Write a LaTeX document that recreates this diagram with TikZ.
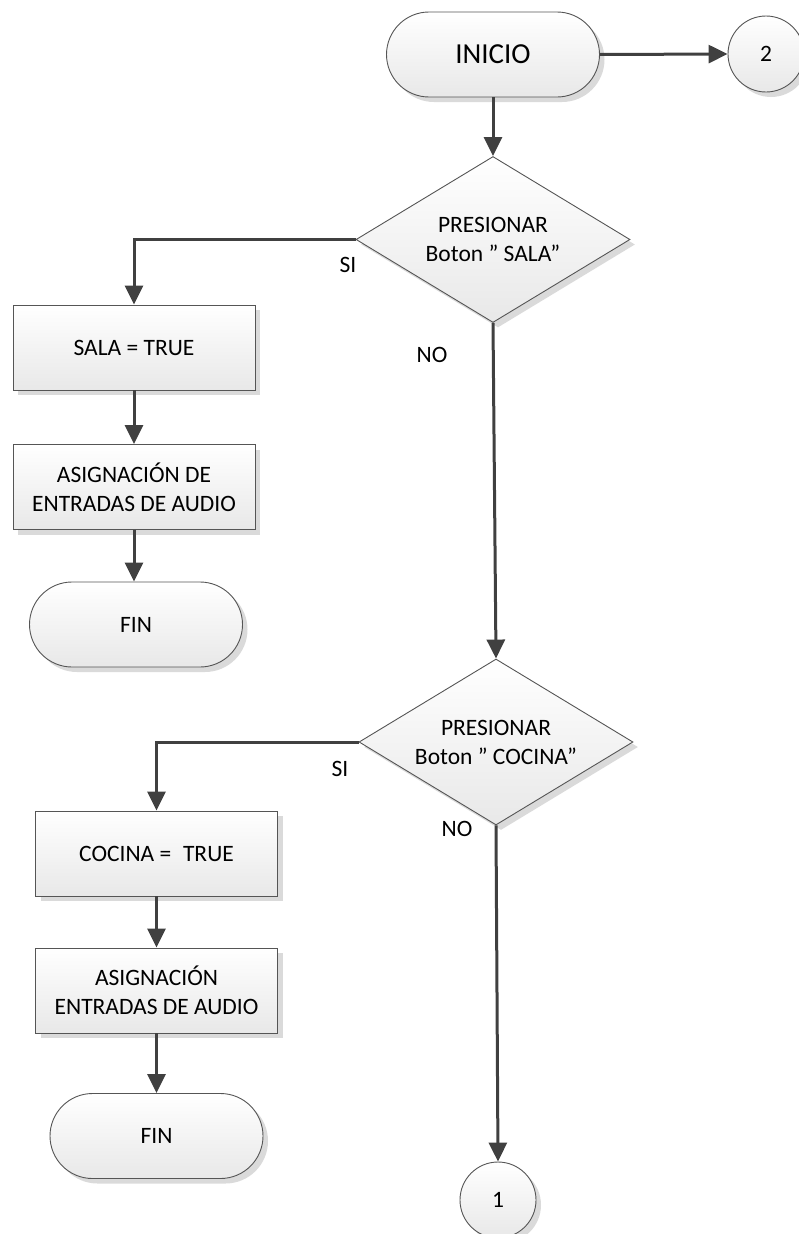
\documentclass[tikz,border=0pt]{standalone}
\usepackage{fontspec}
\setmainfont{Carlito}
\usetikzlibrary{arrows.meta,shapes.geometric,shadows}

\definecolor{edge}{HTML}{555555}
\definecolor{wire}{HTML}{404040}
\definecolor{shade}{HTML}{DADADA}

\begin{document}
\begin{tikzpicture}[x=1pt,y=-1pt,
  txt/.style={font=\fontsize{23.5}{29}\selectfont, align=center, inner sep=0pt},
  shape base/.style={txt, draw=edge, line width=0.9pt,
    top color=white, bottom color=black!9,
    drop shadow={shadow xshift=5pt, shadow yshift=-5pt, fill=shade, opacity=1}},
  procbox/.style={shape base, rectangle, minimum width=242pt, minimum height=85pt},
  terminal/.style={shape base, rectangle, rounded corners=42.5pt,
    minimum width=213pt, minimum height=85pt},
  decision/.style={shape base, diamond, aspect=1.65,
    minimum width=274pt, minimum height=166pt},
  connector/.style={shape base, circle, minimum size=76pt},
  arr/.style={draw=wire, line width=3pt,
    -{Triangle[length=19pt,width=18pt]}},
  lbl/.style={txt}
]
\useasboundingbox (0,0) rectangle (798,1234);

% start and off-page connector
\node[terminal, font=\fontsize{29}{34}\selectfont] (inicio) at (493,54.5) {INICIO};
\node[connector] (c2) at (766,54) {2};

% first decision: living room button
\node[decision] (d1) at (493,239.5) {PRESIONAR\\Boton ” SALA”};
\node[procbox] (sala) at (134,347.5) {SALA = TRUE};
\node[procbox] (asig1) at (134,487) {ASIGNACIÓN DE\\ENTRADAS DE AUDIO};
\node[terminal] (fin1) at (136,624.5) {FIN};

% second decision: kitchen button
\node[decision] (d2) at (496,742) {PRESIONAR\\Boton ” COCINA”};
\node[procbox] (cocina) at (156.5,853.5) {COCINA =\enspace TRUE};
\node[procbox] (asig2) at (156.5,990.5) {ASIGNACIÓN\\ENTRADAS DE AUDIO};
\node[terminal] (fin2) at (156.5,1136) {FIN};
\node[connector] (c1) at (498,1200) {1};

% branch labels
\node[lbl] (si1) at (348,265) {SI};
\node[lbl] (no1) at (432,355) {NO};
\node[lbl] (si2) at (340,769) {SI};
\node[lbl] (no2) at (457,829) {NO};

% flow lines
\draw[arr] (inicio.east) -- (c2.west);
\draw[arr] (inicio.south) -- (d1.north);
\draw[arr] (d1.west) -| (sala.north);
\draw[arr] (sala.south) -- (asig1.north);
\draw[arr] (asig1.south) -- (fin1.north -| asig1.south);
\draw[arr] (d1.south) -- (d2.north);
\draw[arr] (d2.west) -| (cocina.north);
\draw[arr] (cocina.south) -- (asig2.north);
\draw[arr] (asig2.south) -- (fin2.north -| asig2.south);
\draw[arr] (d2.south) -- (c1.north);
\end{tikzpicture}
\end{document}
